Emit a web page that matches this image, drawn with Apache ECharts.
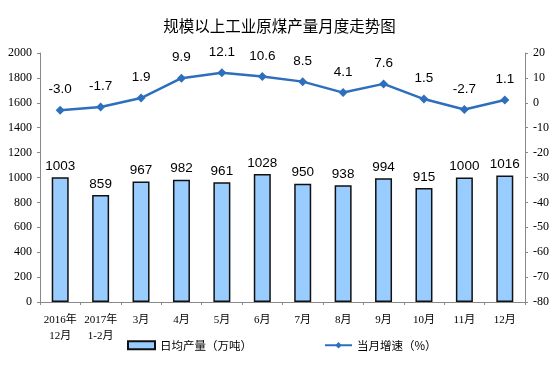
<!DOCTYPE html>
<html><head><meta charset="utf-8">
<script src="https://cdn.jsdelivr.net/npm/echarts@6/dist/echarts.min.js"></script>
<style>html,body{margin:0;padding:0;background:#fff}#c{width:559px;height:380px}</style>
</head><body><div id="c"></div>
<script>
const categories = ['2016年\n12月','2017年\n1-2月','3月','4月','5月','6月','7月','8月','9月','10月','11月','12月'];
const dailyOutput = [1003,859,967,982,961,1028,950,938,994,915,1000,1016];
const growthRate = [-3.0,-1.7,1.9,9.9,12.1,10.6,8.5,4.1,7.6,1.5,-2.7,1.1];
const title = '规模以上工业原煤产量月度走势图';
const seriesNames = ['日均产量（万吨）','当月增速（%）'];

const chart = echarts.init(document.getElementById('c'));
const axisLine = {show:true, lineStyle:{color:'#888', width:1}};
const serif = 'Liberation Serif, "Times New Roman", "Noto Sans CJK SC", serif';
chart.setOption({
  animation:false,
  title:{text:title, left:'center', top:13, textStyle:{fontFamily:'"Noto Sans CJK SC", sans-serif', fontSize:15.5, fontWeight:'normal', color:'#000'}},
  grid:{left:40, right:34, top:53, bottom:78},
  legend:{bottom:24, left:122, itemGap:72, itemWidth:27, itemHeight:8,
    textStyle:{fontFamily:'"Noto Sans CJK SC", sans-serif', fontSize:11.5, color:'#000'},
    data:[{name:seriesNames[0], icon:'rect'},{name:seriesNames[1]}]},
  xAxis:{type:'category', data:categories, axisLine:axisLine,
    axisTick:{show:true, length:3, lineStyle:{color:'#888'}},
    axisLabel:{fontFamily:serif, fontSize:11, color:'#000', margin:10, lineHeight:16, interval:0}},
  yAxis:[
    {type:'value', min:0, max:2000, interval:200, splitLine:{show:false}, axisLine:axisLine,
     axisTick:{show:true, length:3, inside:false, lineStyle:{color:'#888'}},
     axisLabel:{fontFamily:serif, fontSize:12, color:'#000', margin:8, formatter:v=>String(v)}},
    {type:'value', min:-80, max:20, interval:10, splitLine:{show:false}, axisLine:axisLine,
     axisTick:{show:true, length:3, lineStyle:{color:'#888'}},
     axisLabel:{fontFamily:serif, fontSize:12, color:'#000', margin:8, formatter:v=>String(v)}}
  ],
  series:[
    {name:seriesNames[0], type:'bar', data:dailyOutput, barWidth:17,
     itemStyle:{color:'#99CCFF', borderColor:'#111', borderWidth:1.5},
     label:{show:true, position:'top', distance:4, fontFamily:'Liberation Sans, Arial, sans-serif', fontSize:13.5, color:'#000'}},
    {name:seriesNames[1], type:'line', yAxisIndex:1, data:growthRate,
     symbol:'diamond', symbolSize:9, lineStyle:{color:'#2E6FBD', width:2.5},
     itemStyle:{color:'#2E6FBD'},
     label:{show:true, position:'top', distance:9, fontFamily:'Liberation Sans, Arial, sans-serif', fontSize:13.5, color:'#000',
       formatter:p=>p.value.toFixed(1)}}
  ]
});
</script></body></html>
